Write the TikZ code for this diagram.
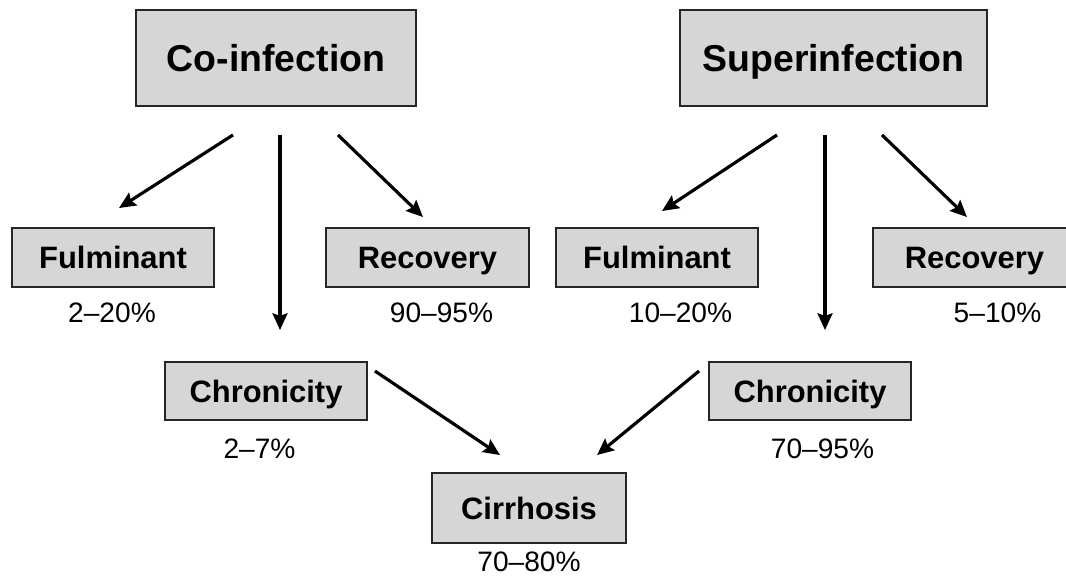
\documentclass[tikz,border=0pt]{standalone}
\usepackage{fontspec}
\setmainfont{Liberation Sans}
\usepackage{tikz}
\usetikzlibrary{arrows.meta,positioning}
\definecolor{boxgray}{HTML}{D6D6D6}

\begin{document}
\begin{tikzpicture}[x=0.02cm, y=-0.02cm, >={Stealth[length=9.5pt,width=8.5pt,inset=1.5pt]},
  box/.style={draw=black!85, line width=1.1pt, fill=boxgray, inner sep=0pt,
    font=\bfseries\fontsize{17.6}{20}\selectfont, text height=12.6pt, text depth=0pt},
  topbox/.style={box, font=\bfseries\fontsize{21.3}{24}\selectfont, text height=15.3pt},
  pct/.style={anchor=base, inner sep=0pt, font=\fontsize{16}{18}\selectfont},
  arr/.style={->, line width=1.8pt}]
\clip (0,0) rectangle (1066,577);
% the two starting situations
\node[topbox, minimum width=5.6cm, minimum height=1.92cm] (coinf) at (276,58) {Co-infection};
\node[topbox, minimum width=6.14cm, minimum height=1.92cm] (supinf) at (833.5,58) {Superinfection};
% outcomes
\node[box, minimum width=4.04cm, minimum height=1.18cm] (fulL) at (113,257.5) {Fulminant};
\node[box, minimum width=4.06cm, minimum height=1.18cm] (recL) at (427.5,257.5) {Recovery};
\node[box, minimum width=4.04cm, minimum height=1.18cm] (fulR) at (657,257.5) {Fulminant};
\node[box, minimum width=4.06cm, minimum height=1.18cm] (recR) at (974.5,257.5) {Recovery};
\node[box, minimum width=4.04cm, minimum height=1.16cm] (chrL) at (266,391) {Chronicity};
\node[box, minimum width=4.04cm, minimum height=1.16cm] (chrR) at (810,391) {Chronicity};
\node[box, minimum width=3.88cm, minimum height=1.4cm] (cirr) at (529,508) {Cirrhosis};
% rates
\node[pct] (pFulL) at (112,323) {2–20\%};
\node[pct] (pRecL) at (441.5,323) {90–95\%};
\node[pct] (pFulR) at (680.5,323) {10–20\%};
\node[pct] (pRecR) at (997.5,323) {5–10\%};
\node[pct] (pChrL) at (259.5,459) {2–7\%};
\node[pct] (pChrR) at (822.5,459) {70–95\%};
\node[pct] (pCirr) at (529,572) {70–80\%};
% arrows from co-infection
\draw[arr] ([shift={(-43,28)}]coinf.south) -- ([shift={(6,-19)}]fulL.north);
\draw[arr] ([shift={(4,28)}]coinf.south) -- ([shift={(14,-31)}]chrL.north);
\draw[arr] ([shift={(62,28)}]coinf.south) -- ([shift={(-4.5,-10)}]recL.north);
% arrows from superinfection
\draw[arr] ([shift={(-56.5,28)}]supinf.south) -- ([shift={(5,-16)}]fulR.north);
\draw[arr] ([shift={(-8.5,28)}]supinf.south) -- ([shift={(15,-31)}]chrR.north);
\draw[arr] ([shift={(48.5,28)}]supinf.south) -- ([shift={(-7.5,-10)}]recR.north);
% chronicity to cirrhosis
\draw[arr] ([shift={(7,10)}]chrL.north east) -- ([shift={(-29,-17)}]cirr.north);
\draw[arr] ([shift={(-9,10)}]chrR.north west) -- ([shift={(68,-17)}]cirr.north);
\end{tikzpicture}
\end{document}
